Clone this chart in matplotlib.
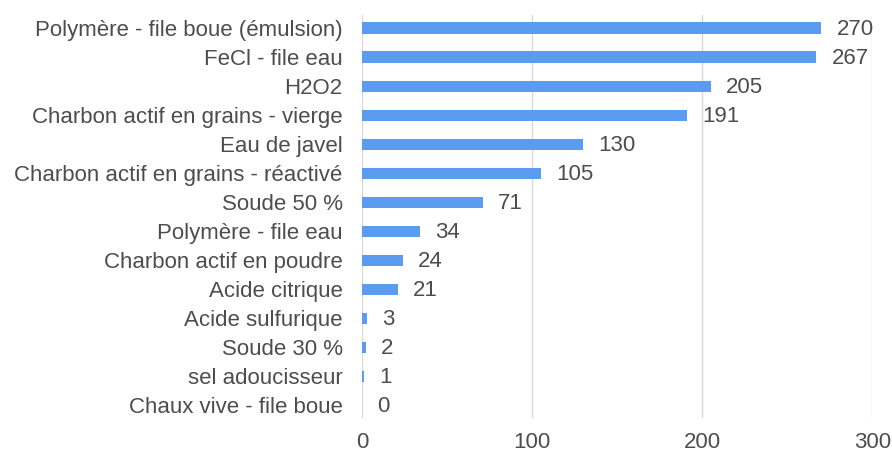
import matplotlib.pyplot as plt

plt.rcParams['font.family'] = ['Liberation Sans', 'DejaVu Sans']

produits = ['Polymère - file boue (émulsion)', 'FeCl - file eau', 'H2O2',
            'Charbon actif en grains - vierge', 'Eau de javel',
            'Charbon actif en grains - réactivé', 'Soude 50 %',
            'Polymère - file eau', 'Charbon actif en poudre', 'Acide citrique',
            'Acide sulfurique', 'Soude 30 %', 'sel adoucisseur',
            'Chaux vive - file boue']
valeurs = [270, 267, 205, 191, 130, 105, 71, 34, 24, 21, 3, 2, 1, 0]
ticks_x = [0, 100, 200, 300]

fig = plt.figure(figsize=(8.92, 4.53), dpi=100)
ax = fig.add_axes([0.406, 0.077, 0.572, 0.89])

fs = 16
gris = '#4d4d4d'
pos = range(len(produits))
ax.barh(pos, valeurs, height=0.38, color='#5c9cf0', zorder=2)
for p, v in zip(pos, valeurs):
    ax.text(v + 9, p + 0.05, str(v), va='center', ha='left', fontsize=fs, color=gris)

ax.set_yticks(list(pos))
ax.set_yticklabels(produits, fontsize=fs, color=gris)
ax.set_xticks(ticks_x)
ax.set_xticklabels([str(t) for t in ticks_x], fontsize=fs, color=gris)
ax.set_xlim(0, 300)
ax.set_ylim(13.45, -0.45)
ax.tick_params(axis='both', length=0)
ax.tick_params(axis='y', pad=14)
ax.tick_params(axis='x', pad=10)
ax.xaxis.grid(True, color='#d9d9d9', linewidth=1, zorder=0)
for s in ax.spines.values():
    s.set_visible(False)

fig.savefig('out.png', dpi=100)
